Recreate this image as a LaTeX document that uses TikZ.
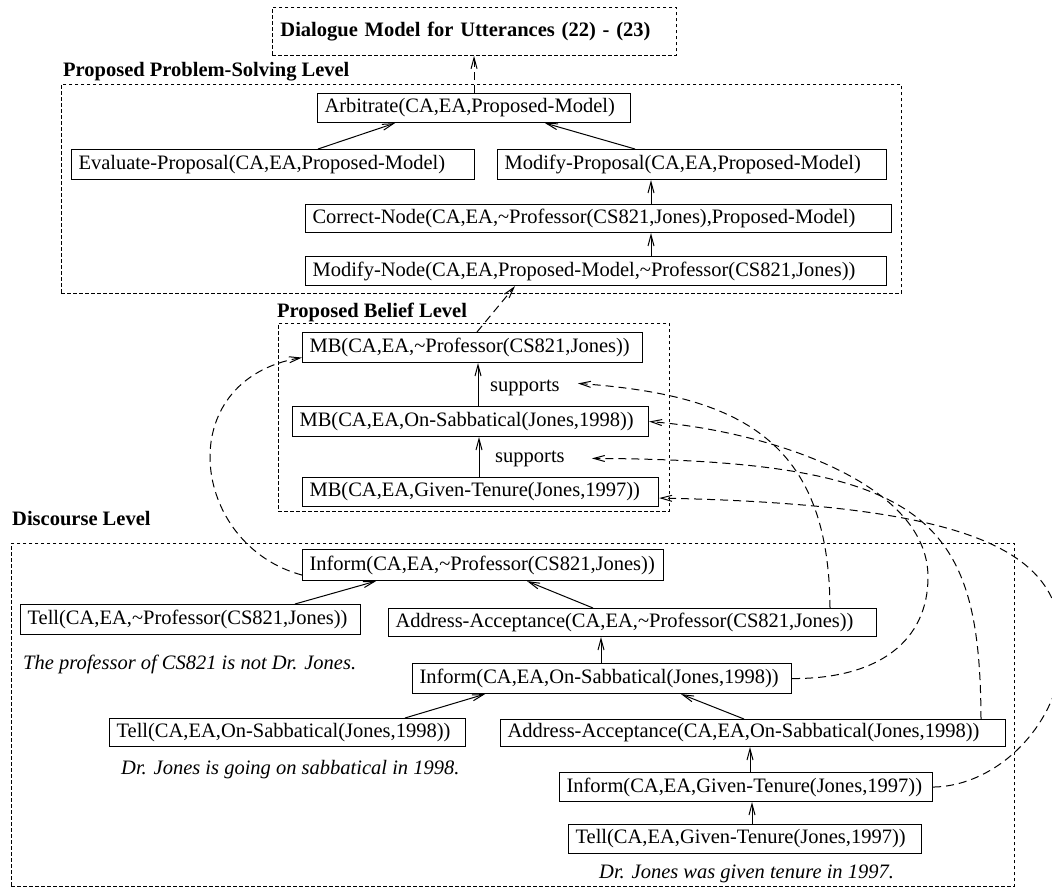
\documentclass[tikz,border=0pt]{standalone}
\usepackage{fontspec}
\setmainfont{Liberation Serif}
\usetikzlibrary{arrows.meta}
\tikzset{
  base/.style={font=\fontsize{20.5pt}{24pt}\selectfont},
  box/.style={base, draw, line width=1.1pt, anchor=north west, inner xsep=7pt, inner ysep=0pt, minimum height=29pt, align=left},
  cont/.style={draw, line width=0.9pt, dash pattern=on 3.5pt off 2.5pt, anchor=north west, inner sep=0pt},
  lvl/.style={font=\fontsize{20.5pt}{24pt}\selectfont\bfseries, anchor=base west, inner sep=0pt},
  note/.style={font=\fontsize{20.5pt}{24pt}\selectfont\itshape, anchor=base west, inner sep=0pt},
  lab/.style={base, anchor=base west, inner sep=0pt},
  arr/.style={line width=1pt, -{Straight Barb[length=11pt,width=6pt]}},
  darr/.style={arr, dash pattern=on 8pt off 5pt},
}
\newcommand{\tl}{\textasciitilde}
\begin{document}
\begin{tikzpicture}[x=1pt,y=-1pt]
\useasboundingbox (0,0) rectangle (1052,888);

% containers
\node[cont, font=\fontsize{20.5pt}{24pt}\selectfont\bfseries, minimum width=404pt, minimum height=48pt, text width=388pt, inner xsep=8pt, align=left] (title) at (272,7) {\mbox{Dialogue Model for Utterances (22) - (23)}};
\node[cont, minimum width=840pt, minimum height=209pt] (ps) at (61,84) {};
\node[cont, minimum width=391pt, minimum height=188pt] (pb) at (278,323) {};
\node[cont, minimum width=1003pt, minimum height=343pt] (dl) at (11,543) {};

\node[lvl] (lps) at (63,77) {Proposed Problem-Solving Level};
\node[lvl] (lpb) at (277,317) {Proposed Belief Level};
\node[lvl] (ldl) at (12,525) {Discourse Level};

% problem-solving level
\node[box, text width=299pt] (arb) at (317,93) {\mbox{Arbitrate(CA,EA,Proposed-Model)}};
\node[box, text width=389pt, minimum height=30pt] (ev) at (71,149) {\mbox{Evaluate-Proposal(CA,EA,Proposed-Model)}};
\node[box, text width=375pt, minimum height=30pt] (mp) at (497,149) {\mbox{Modify-Proposal(CA,EA,Proposed-Model)}};
\node[box, text width=572pt, minimum height=28pt] (cn) at (305,204) {\mbox{Correct-Node(CA,EA,\tl Professor(CS821,Jones),Proposed-Model)}};
\node[box, text width=567pt] (mn) at (305,256) {\mbox{Modify-Node(CA,EA,Proposed-Model,\tl Professor(CS821,Jones))}};

% belief level
\node[box, text width=326pt, minimum height=30pt] (mb1) at (302,332) {\mbox{MB(CA,EA,\tl Professor(CS821,Jones))}};
\node[box, text width=342pt, minimum height=30pt] (mb2) at (292,406) {\mbox{MB(CA,EA,On-Sabbatical(Jones,1998))}};
\node[box, text width=342pt] (mb3) at (302,477) {\mbox{MB(CA,EA,Given-Tenure(Jones,1997))}};
\node[lab] (sup1) at (490,391) {supports};
\node[lab] (sup2) at (495,462) {supports};

% discourse level
\node[box, text width=347pt, minimum height=31pt] (inf1) at (302,549) {\mbox{Inform(CA,EA,\tl Professor(CS821,Jones))}};
\node[box, text width=326pt, minimum height=30pt] (tell1) at (20,604) {\mbox{Tell(CA,EA,\tl Professor(CS821,Jones))}};
\node[box, text width=474pt, minimum height=28pt] (aa1) at (388,608) {\mbox{Address-Acceptance(CA,EA,\tl Professor(CS821,Jones))}};
\node[box, text width=365pt, minimum height=30pt] (inf2) at (412,663) {\mbox{Inform(CA,EA,On-Sabbatical(Jones,1998))}};
\node[box, text width=342pt, minimum height=28pt] (tell2) at (109,718) {\mbox{Tell(CA,EA,On-Sabbatical(Jones,1998))}};
\node[box, text width=491pt, minimum height=27pt] (aa2) at (500,719) {\mbox{Address-Acceptance(CA,EA,On-Sabbatical(Jones,1998))}};
\node[box, text width=359pt] (inf3) at (559,772) {\mbox{Inform(CA,EA,Given-Tenure(Jones,1997))}};
\node[box, text width=339pt] (tell3) at (568,824) {\mbox{Tell(CA,EA,Given-Tenure(Jones,1997))}};

\node[note] (n1) at (23,669) {The professor of CS821 is not Dr. Jones.};
\node[note] (n2) at (121,774) {Dr. Jones is going on sabbatical in 1998.};
\node[note] (n3) at (599,878) {Dr. Jones was given tenure in 1997.};

% solid arrows
\draw[arr] ([xshift=247pt]ev.north west) -- ([xshift=78pt]arb.south west);
\draw[arr] ([xshift=138pt]mp.north west) -- ([xshift=228pt]arb.south west);
\draw[arr] ([xshift=346pt]cn.north west) -- ([xshift=346pt]cn.north west |- mp.south);
\draw[arr] ([xshift=346pt]mn.north west) -- ([xshift=346pt]mn.north west |- cn.south);
\draw[arr] ([xshift=186pt]mb2.north west) -- ([xshift=186pt]mb2.north west |- mb1.south);
\draw[arr] ([xshift=177pt]mb3.north west) -- ([xshift=177pt]mb3.north west |- mb2.south);
\draw[arr] ([xshift=275pt]tell1.north west) -- ([xshift=74pt]inf1.south west);
\draw[arr] ([xshift=205pt]aa1.north west) -- ([xshift=225pt]inf1.south west);
\draw[arr] ([xshift=189pt]inf2.north west) -- ([xshift=189pt]inf2.north west |- aa1.south);
\draw[arr] ([xshift=296pt]tell2.north west) -- ([xshift=73pt]inf2.south west);
\draw[arr] ([xshift=244pt]aa2.north west) -- ([xshift=269pt]inf2.south west);
\draw[arr] ([xshift=191pt]inf3.north west) -- ([xshift=191pt]inf3.north west |- aa2.south);
\draw[arr] ([xshift=184pt]tell3.north west) -- ([xshift=184pt]tell3.north west |- inf3.south);

% dashed arrows
\draw[darr] (arb.north) -- (arb.north |- title.south);
\draw[darr] ([xshift=175pt]mb1.north west) -- ([xshift=210pt]mn.south west);
\draw[darr] ([yshift=-10pt]inf1.west) .. controls (190,545) and (170,380) .. ([yshift=-10pt]mb1.west);
\draw[darr] ([xshift=442pt]aa1.north west) .. controls (829,440) and (740,395) .. ([xshift=18pt,yshift=4pt]sup1.east);
\draw[darr] (inf2.east) .. controls (880,679) and (928,640) .. (928,577) .. controls (928,480) and (760,430) .. (mb2.east);
\draw[darr] ([xshift=481pt]aa2.north west) .. controls (980,520) and (930,460) .. ([xshift=27pt]sup2.east);
\draw[darr] (inf3.east) .. controls (1000,786) and (1062,720) .. (1062,650) .. controls (1062,560) and (1000,505) .. ([yshift=-6pt]mb3.east);
\end{tikzpicture}
\end{document}
